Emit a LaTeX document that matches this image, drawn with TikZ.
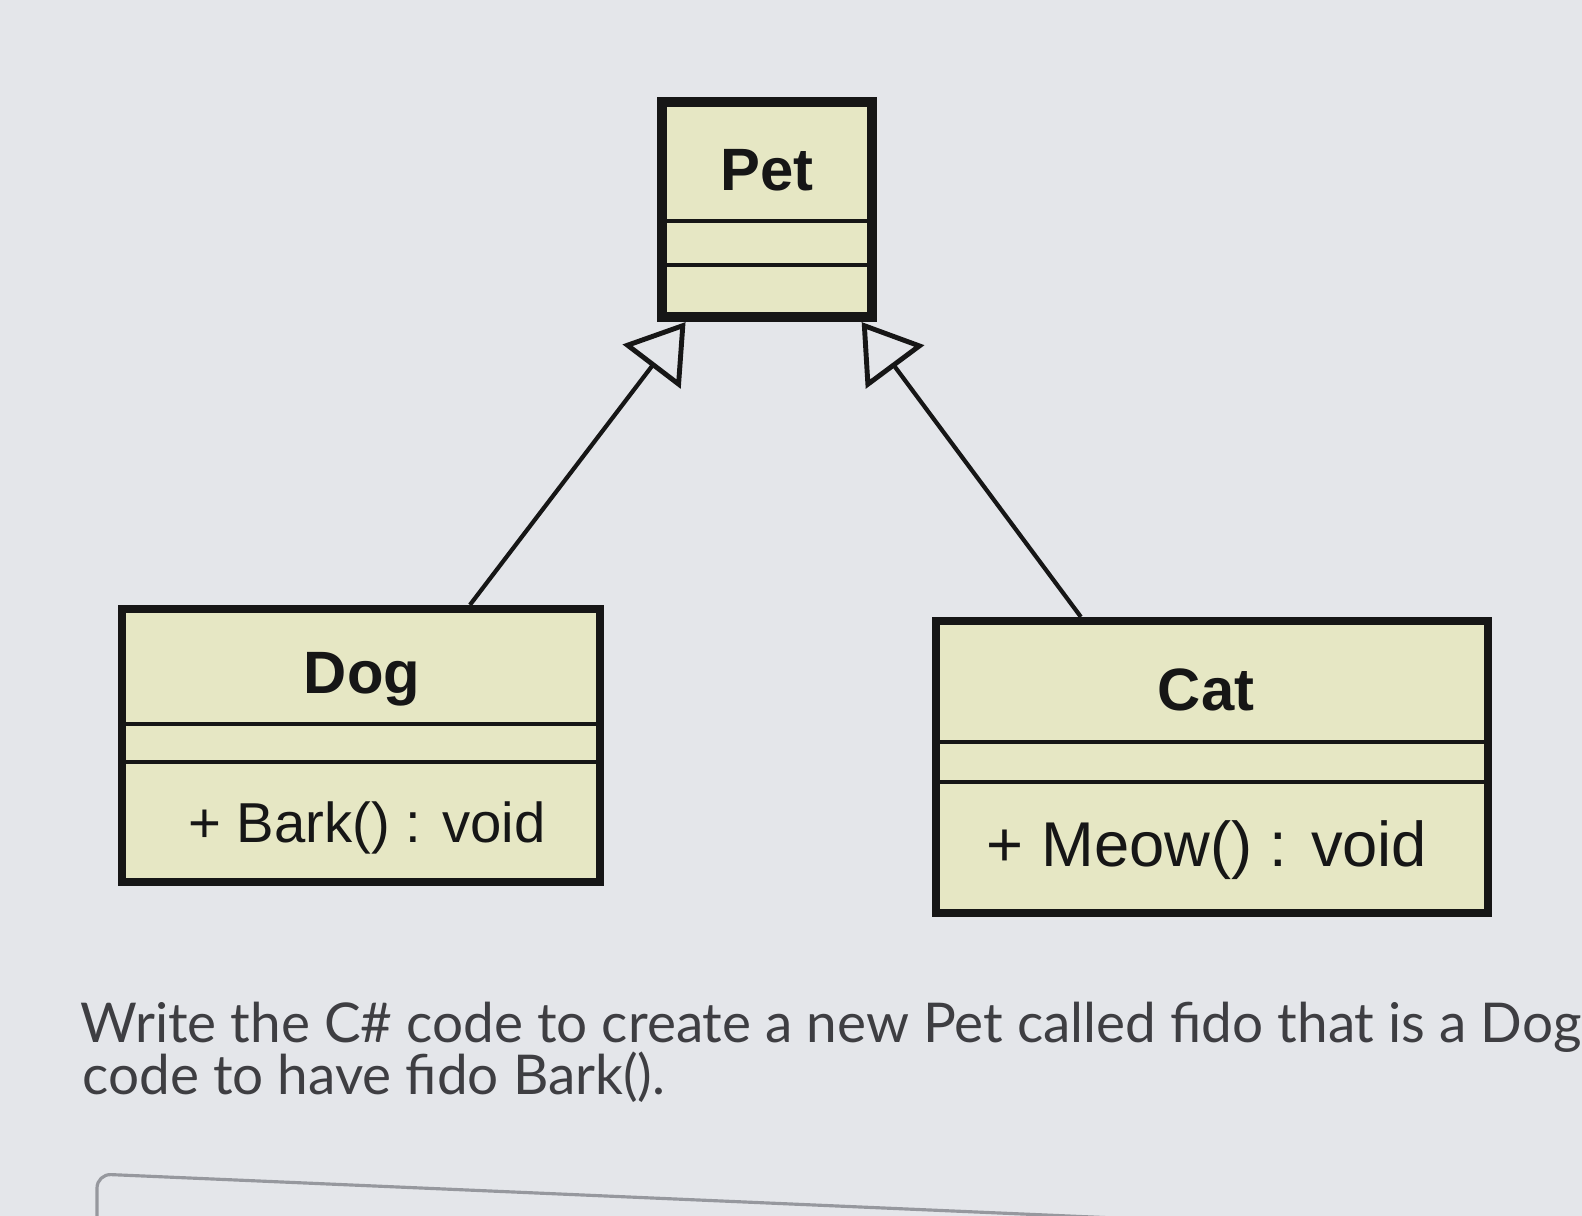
\documentclass[tikz,border=0pt]{standalone}
\usepackage{fontspec}
\setmainfont{Liberation Sans}
\newfontfamily\latofont{Lato}
\usetikzlibrary{arrows.meta,calc}
\definecolor{bg}{RGB}{228,230,234}
\definecolor{umlfill}{RGB}{230,231,196}
\definecolor{ink}{RGB}{22,22,22}
\definecolor{qtext}{RGB}{62,62,66}
\definecolor{boxline}{RGB}{150,152,158}
\begin{document}
\begin{tikzpicture}[x=0.01cm,y=-0.01cm,
  classbox/.style={draw=ink, fill=umlfill, inner sep=0pt, outer sep=0.04cm, line width=0.08cm},
  petbox/.style={classbox, outer sep=0.05cm, line width=0.1cm},
  divider/.style={draw=ink, line width=1.1pt},
  classname/.style={font=\bfseries\fontsize{17}{20}\selectfont, text=ink, anchor=base, inner sep=0pt},
  member/.style={font=\fontsize{16}{19}\selectfont, text=ink, anchor=base, inner sep=0pt},
  inherit/.style={draw=ink, line width=1.2pt, -{Triangle[open, length=0.56cm, width=0.72cm, line width=1.4pt]}},
  question/.style={font=\latofont\fontsize{15.6}{19}\selectfont, text=qtext, anchor=base west, inner sep=0pt}]
\fill[bg] (0,0) rectangle (1582,1216);
\useasboundingbox (0,0) rectangle (1582,1216);

% Pet
\node[petbox, minimum width=2.1cm, minimum height=2.15cm] (pet) at (767,209.5) {};
\draw[divider] (662,221) -- (872,221);
\draw[divider] (662,265) -- (872,265);
\node[classname] (petname) at (767,191) {Pet};

% Dog
\node[classbox, minimum width=4.78cm, minimum height=2.73cm] (dog) at (361,745.5) {};
\draw[divider] (122,724) -- (600,724);
\draw[divider] (122,762) -- (600,762);
\node[classname] (dogname) at (362,693) {Dog};
\node[member] (bark) at (367,842) {+ Bark() : void};

% Cat
\node[classbox, minimum width=5.52cm, minimum height=2.92cm] (cat) at (1212,767) {};
\draw[divider] (936,742) -- (1488,742);
\draw[divider] (936,782) -- (1488,782);
\node[classname] (catname) at (1206,710) {Cat};
\node[member, font=\fontsize{18}{21}\selectfont] (meow) at (1207,866) {+ Meow() : void};

% inheritance
\draw[inherit] ($(dog.north west)!0.724!(dog.north east)$) -- ($(pet.south west)!0.13!(pet.south east)$);
\draw[inherit] ($(cat.north west)!0.266!(cat.north east)$) -- ($(pet.south west)!0.93!(pet.south east)$);

% question text
\node[question] (q1) at (80,1042) {Write the C\# code to create a new Pet called fido that is a Dog};
\node[question] (q2) at (82,1094) {code to have fido Bark().};

% answer box
\begin{scope}
\clip (0,0) rectangle (1582,1216);
\draw[boxline, line width=0.9pt, rounded corners=4pt] (97,1240) -- (97,1174) -- (1300,1226);
\end{scope}
\end{tikzpicture}
\end{document}
